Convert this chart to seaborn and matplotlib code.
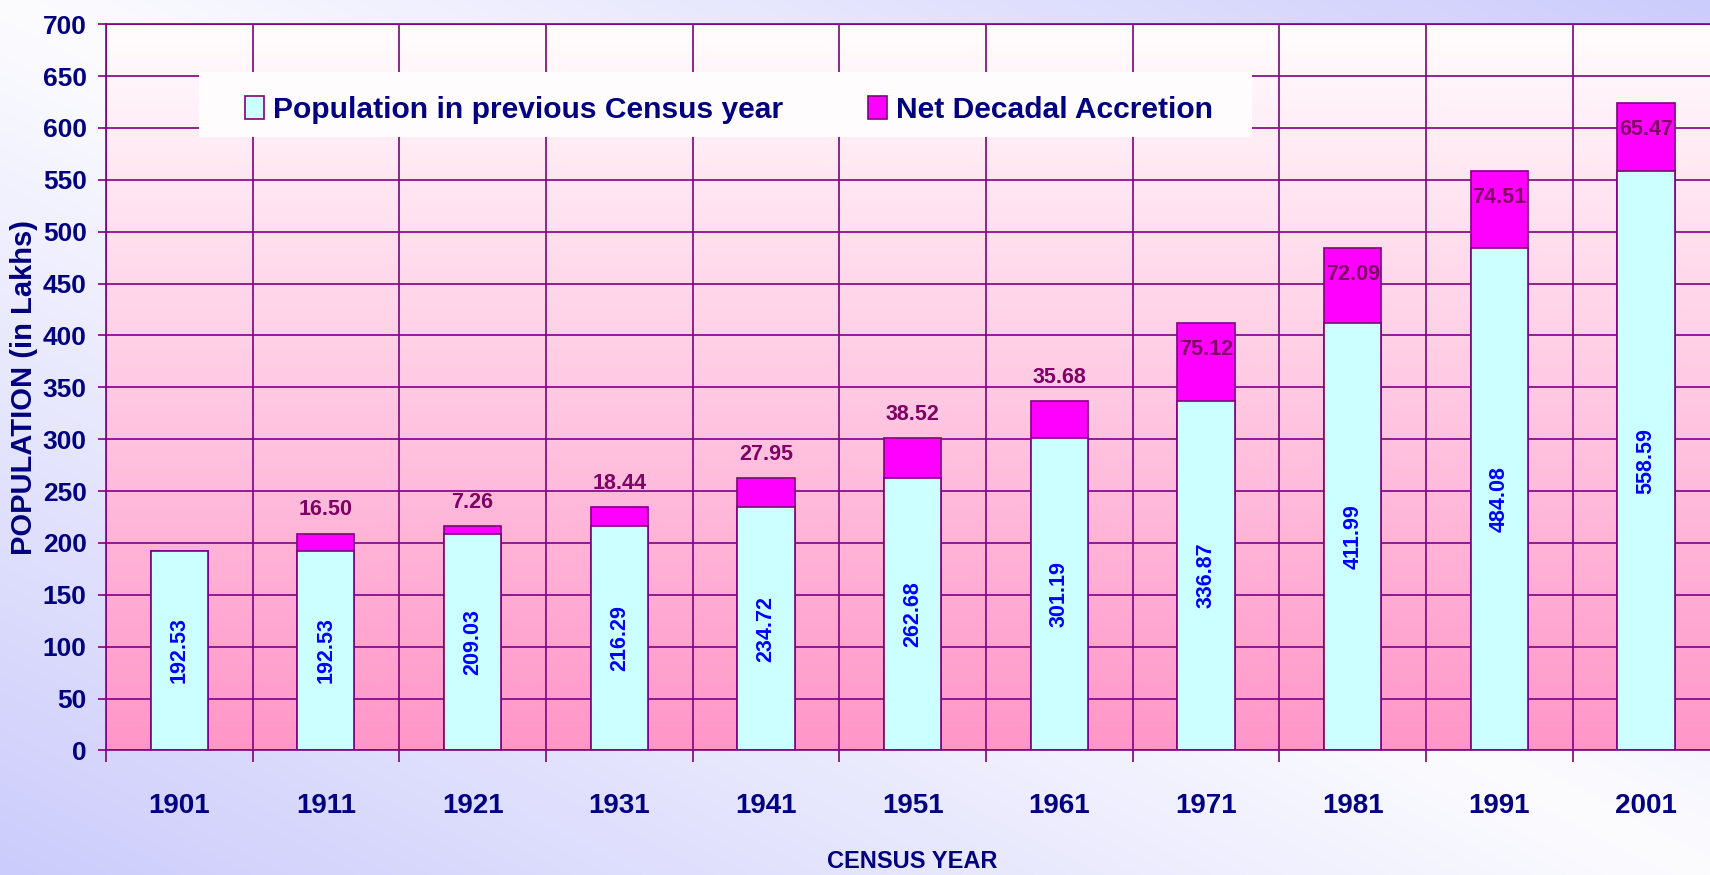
import numpy as np
import matplotlib
matplotlib.use("Agg")
import matplotlib.pyplot as plt
from matplotlib import font_manager
from matplotlib.patches import Patch, Rectangle
import seaborn as sns

# census data (in lakhs)
years = ["1901", "1911", "1921", "1931", "1941", "1951",
         "1961", "1971", "1981", "1991", "2001"]
prev_pop = [192.53, 192.53, 209.03, 216.29, 234.72, 262.68,
            301.19, 336.87, 411.99, 484.08, 558.59]
accretion = [np.nan, 16.50, 7.26, 18.44, 27.95, 38.52,
             35.68, 75.12, 72.09, 74.51, 65.47]
y_ticks = list(range(0, 701, 50))
legend_labels = ["Population in previous Census year", "Net Decadal Accretion"]

CYAN = "#ccffff"
MAGENTA = "#ff00ff"
EDGE = "#800080"
NAVY = "#000080"
BLUE = "#0000ff"
ACC_TXT = "#800066"

sns.set_style("white")
installed = {f.name for f in font_manager.fontManager.ttflist}
narrow = "Liberation Sans Narrow" if "Liberation Sans Narrow" in installed else "Liberation Sans"
plt.rcParams["font.family"] = ["Liberation Sans", "DejaVu Sans"]

fig = plt.figure(figsize=(17.1, 8.75), dpi=100)

# figure background: diagonal lavender/white gradient
bg = fig.add_axes([0, 0, 1, 1], zorder=-10)
xx, yy = np.meshgrid(np.linspace(0, 1, 400), np.linspace(0, 1, 400))
t = np.abs(xx + yy - 1)[..., None]
lav = np.array([204, 204, 252]) / 255
wht = np.array([252, 252, 255]) / 255
bg.imshow(wht + (lav - wht) * t, origin="lower", extent=[0, 1, 0, 1], aspect="auto")
bg.axis("off")

ax = fig.add_axes([0.0619, 0.1424, 0.9436, 0.830])
ax.set_facecolor("none")

# plot area: white to pink vertical gradient
g = np.linspace(0, 1, 256)[:, None, None]
top_c = np.array([255, 253, 254]) / 255
bot_c = np.array([255, 150, 200]) / 255
ax.imshow(bot_c + (top_c - bot_c) * g, origin="lower", extent=[0, 1, 0, 1],
          transform=ax.transAxes, aspect="auto", zorder=0)

totals = [p + (0 if np.isnan(a) else a) for p, a in zip(prev_pop, accretion)]

sns.barplot(x=years, y=totals, color=MAGENTA, saturation=1, edgecolor=EDGE,
            linewidth=1.2, width=0.39, ax=ax)
sns.barplot(x=years, y=prev_pop, color=CYAN, saturation=1, edgecolor=EDGE,
            linewidth=1.2, width=0.39, ax=ax)

# value labels
for i, (p, a) in enumerate(zip(prev_pop, accretion)):
    ax.text(i, p / 2, f"{p:.2f}", rotation=90, ha="center", va="center",
            color=BLUE, fontsize=15.5, fontweight="bold")
    if np.isnan(a):
        continue
    off = -19 if a > 50 else 17
    ax.annotate(f"{a:.2f}", (i, p + a), xytext=(0, off), textcoords="offset points",
                ha="center", va="center", color=ACC_TXT, fontsize=15.5,
                fontweight="bold", family=narrow)

ax.set_xlim(-0.5, 10.5)
ax.set_ylim(0, 700)
ax.set_yticks(y_ticks)
ax.set_xticks(np.arange(-0.5, 11, 1), minor=True)
ax.set_axisbelow(True)
ax.grid(False)
ax.yaxis.grid(True, which="major", color=EDGE, lw=1.2)
ax.xaxis.grid(True, which="minor", color=EDGE, lw=1.2)
ax.xaxis.grid(False, which="major")

for s in ax.spines.values():
    s.set_color(EDGE)
    s.set_linewidth(1.2)
    s.set_visible(True)

ax.tick_params(axis="y", which="major", direction="out", length=5.8, width=1.2,
               color=EDGE, pad=8, labelsize=19, labelcolor=NAVY, left=True)
ax.tick_params(axis="x", which="major", length=0, pad=31, labelsize=20, labelcolor=NAVY)
ax.tick_params(axis="x", which="minor", direction="out", length=8.6, width=1.2,
               color=EDGE, bottom=True)
for lbl in ax.get_xticklabels() + ax.get_yticklabels():
    lbl.set_family(narrow)
    lbl.set_fontweight("bold")

ax.set_xlabel("CENSUS YEAR", fontsize=17, fontweight="bold", color=NAVY, family=narrow)
ax.xaxis.set_label_coords(0.5, -0.1536)
ax.xaxis.label.set_va("center")
ax.set_ylabel("POPULATION (in Lakhs)", fontsize=21, fontweight="bold", color=NAVY)
ax.yaxis.set_label_coords(-0.0508, 0.5)
ax.yaxis.label.set_va("center")

# legend box hides the grid behind it
ax.add_patch(Rectangle((0.0576, 0.8444), 0.6526, 0.0896, transform=ax.transAxes,
                       facecolor="#fffcfe", edgecolor="none", zorder=0.8))
handles = [Patch(facecolor=CYAN, edgecolor=EDGE, lw=1.2),
           Patch(facecolor=MAGENTA, edgecolor=EDGE, lw=1.2)]
leg = ax.legend(handles, legend_labels, ncol=2, loc="center left",
                bbox_to_anchor=(0.0861, 0.882), frameon=False, borderpad=0,
                borderaxespad=0, handlelength=0.63, handleheight=0.83,
                handletextpad=0.3, columnspacing=2.83,
                prop={"family": narrow, "weight": "bold", "size": 21.6})
for txt in leg.get_texts():
    txt.set_color(NAVY)

fig.savefig("out.png", dpi=100)
